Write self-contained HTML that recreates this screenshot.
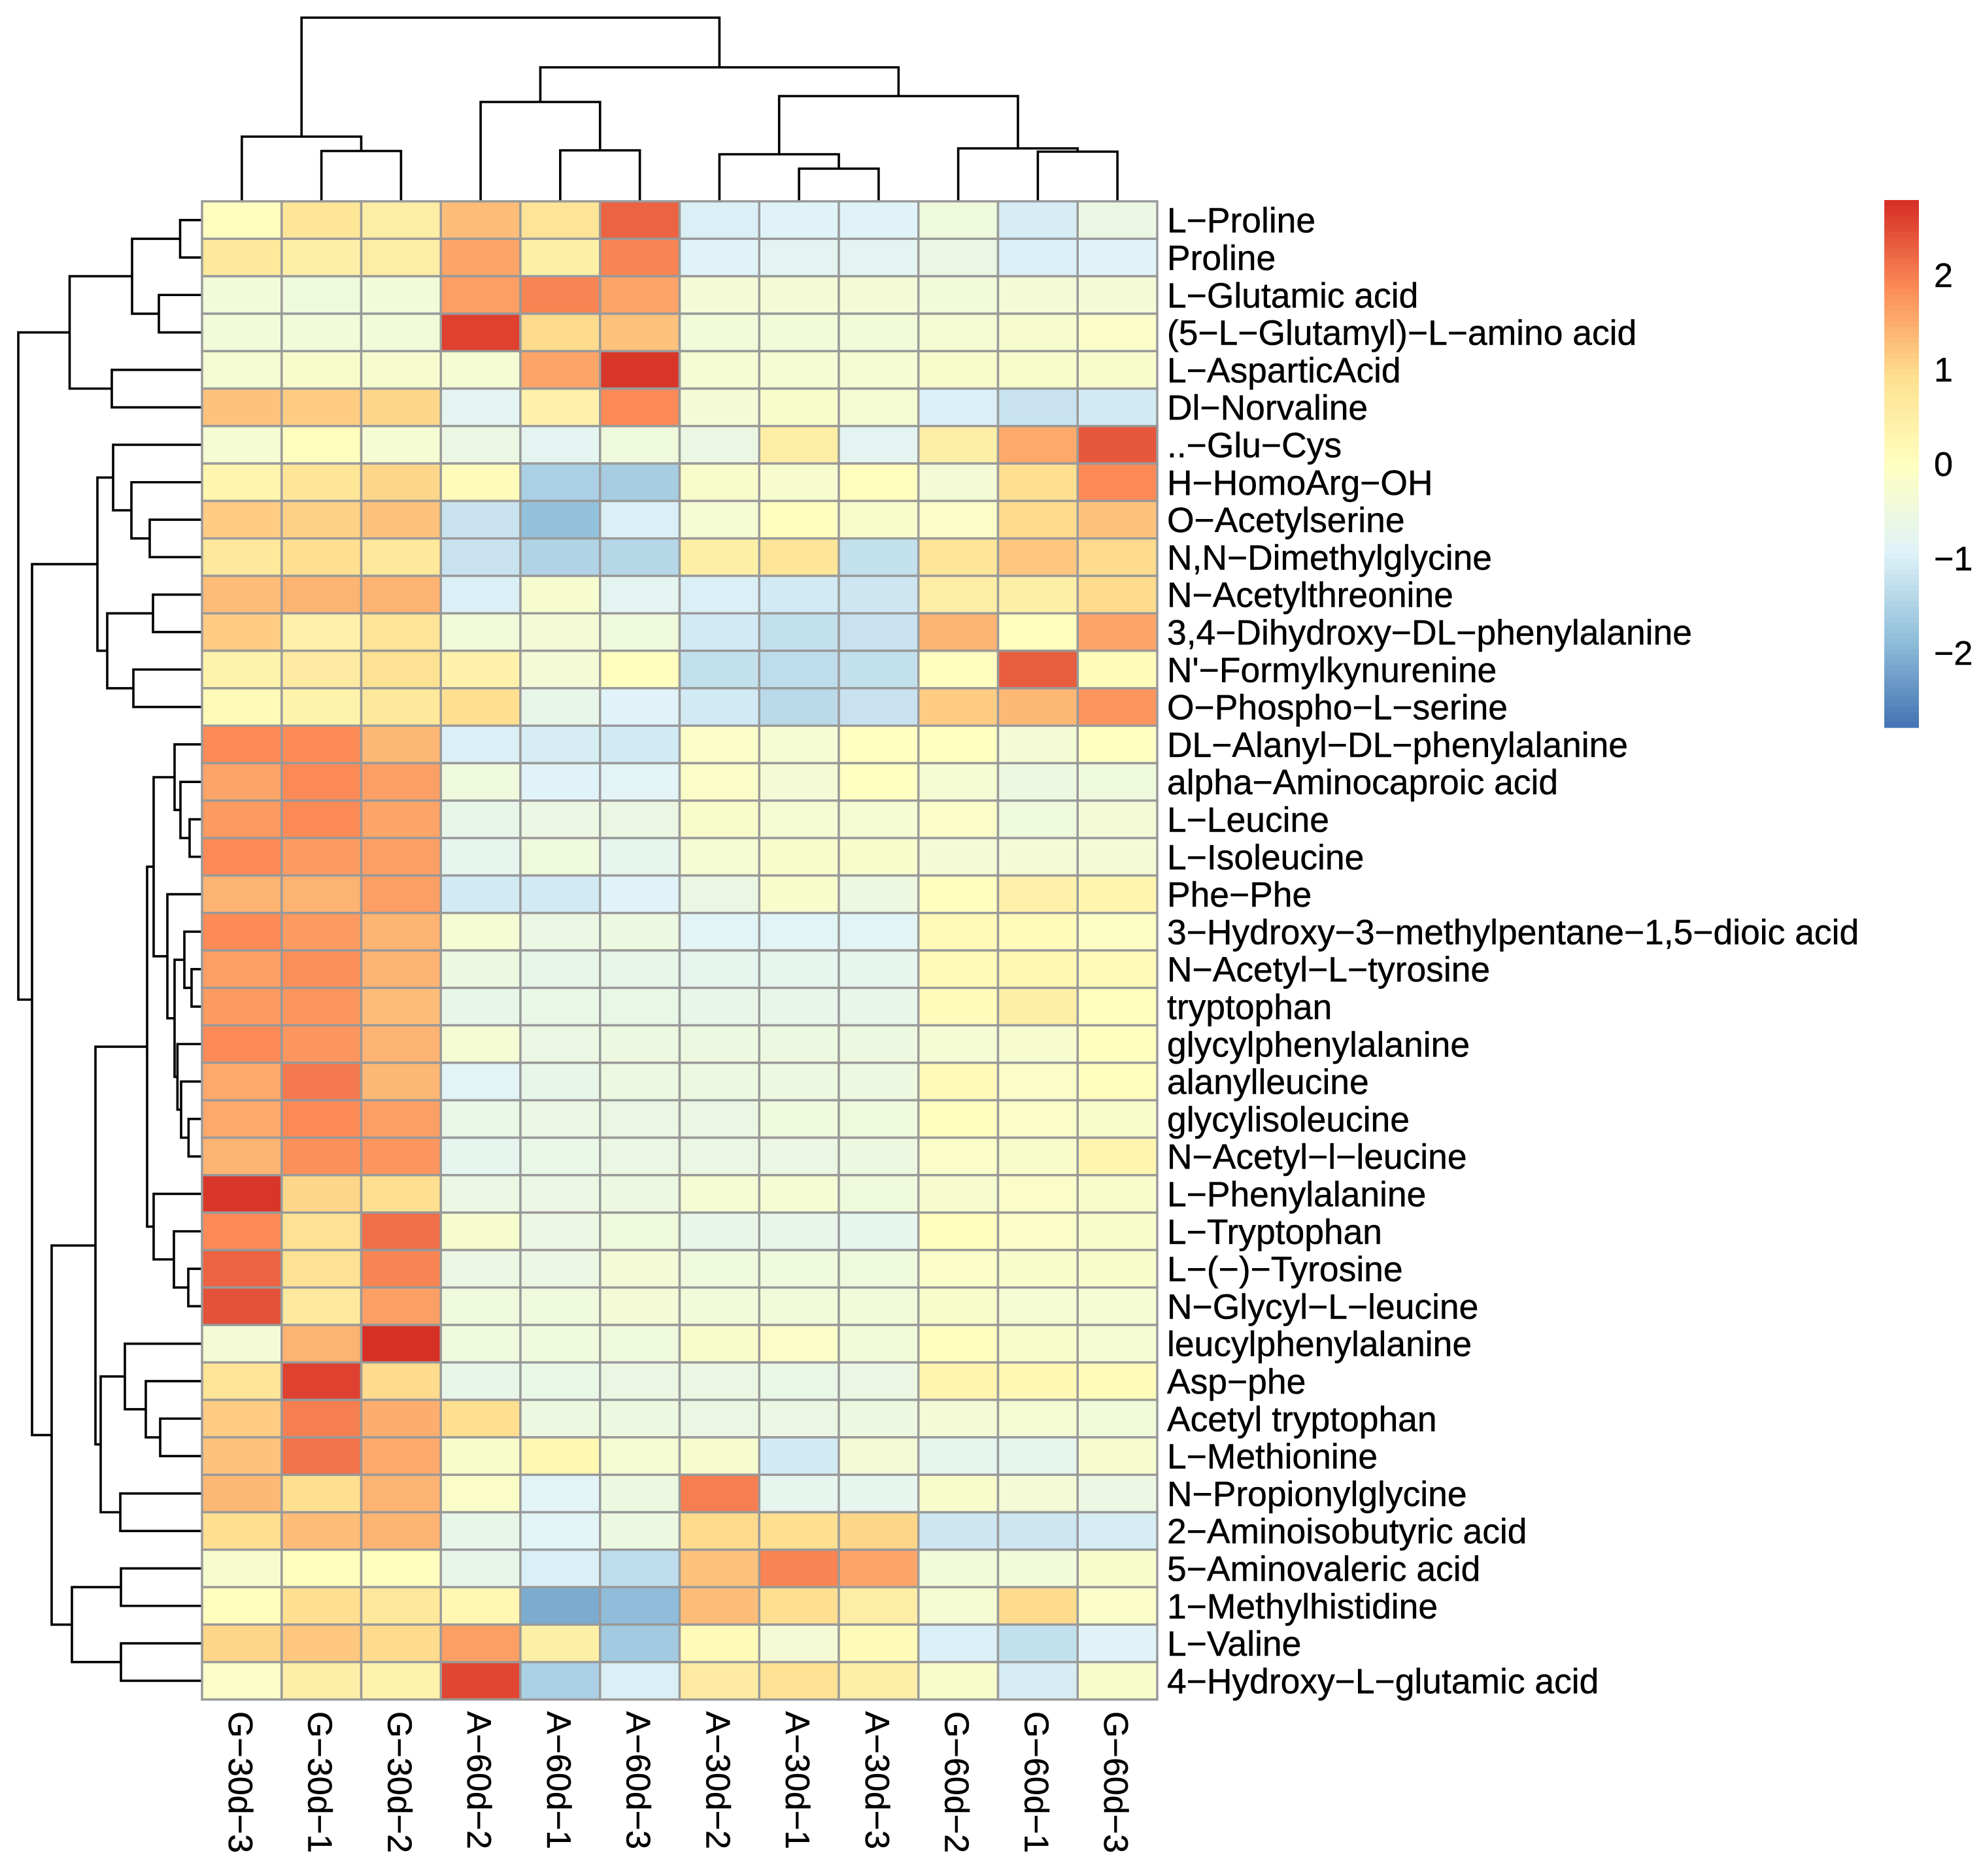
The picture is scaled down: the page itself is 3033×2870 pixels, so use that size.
<!DOCTYPE html>
<html lang="en">
<head>
<meta charset="utf-8">
<title>Metabolite clustered heatmap</title>
<style>
html,body{margin:0;padding:0;background:#fff;}
svg{display:block;}
text{font-family:"Liberation Sans",Arial,sans-serif;fill:#000;stroke:#000;stroke-width:0.5px;}
</style>
</head>
<body>
<svg id="chart" xmlns="http://www.w3.org/2000/svg" width="3033" height="2870" viewBox="0 0 3033 2870">
  <rect x="0" y="0" width="3033" height="2870" fill="#ffffff"/>
  <g id="col-dendrogram"></g>
  <g id="row-dendrogram"></g>
  <g id="cells"></g>
  <g id="row-labels"></g>
  <g id="col-labels"></g>
  <g id="legend"></g>
</svg>
<script>
const colLabels = ["G−30d−3","G−30d−1","G−30d−2","A−60d−2","A−60d−1","A−60d−3","A−30d−2","A−30d−1","A−30d−3","G−60d−2","G−60d−1","G−60d−3"];
const rowLabels = ["L−Proline","Proline","L−Glutamic acid","(5−L−Glutamyl)−L−amino acid","L−AsparticAcid","Dl−Norvaline","..−Glu−Cys","H−HomoArg−OH","O−Acetylserine","N,N−Dimethylglycine","N−Acetylthreonine","3,4−Dihydroxy−DL−phenylalanine","N'−Formylkynurenine","O−Phospho−L−serine","DL−Alanyl−DL−phenylalanine","alpha−Aminocaproic acid","L−Leucine","L−Isoleucine","Phe−Phe","3−Hydroxy−3−methylpentane−1,5−dioic acid","N−Acetyl−L−tyrosine","tryptophan","glycylphenylalanine","alanylleucine","glycylisoleucine","N−Acetyl−l−leucine","L−Phenylalanine","L−Tryptophan","L−(−)−Tyrosine","N−Glycyl−L−leucine","leucylphenylalanine","Asp−phe","Acetyl tryptophan","L−Methionine","N−Propionylglycine","2−Aminoisobutyric acid","5−Aminovaleric acid","1−Methylhistidine","L−Valine","4−Hydroxy−L−glutamic acid"];
const cellValues = [
[0.05,0.75,0.55,1.3,0.8,2.25,-0.95,-0.9,-0.9,-0.45,-1.05,-0.6],
[0.7,0.5,0.55,1.6,0.45,1.95,-0.9,-0.8,-0.8,-0.6,-1.0,-0.9],
[-0.4,-0.45,-0.4,1.65,1.9,1.6,-0.35,-0.35,-0.35,-0.4,-0.35,-0.35],
[-0.4,-0.4,-0.4,2.6,1.0,1.25,-0.4,-0.4,-0.4,-0.3,-0.25,-0.15],
[-0.3,-0.2,-0.25,-0.3,1.6,2.7,-0.3,-0.3,-0.3,-0.2,-0.2,-0.2],
[1.25,1.15,1.05,-0.8,0.4,1.85,-0.35,-0.2,-0.3,-0.95,-1.2,-1.1],
[-0.3,0.05,-0.3,-0.6,-0.8,-0.45,-0.6,0.55,-0.8,0.5,1.55,2.35],
[0.3,0.75,1.05,0.1,-1.55,-1.6,-0.2,-0.25,0.05,-0.35,0.9,1.85],
[1.15,1.1,1.25,-1.2,-1.8,-0.95,-0.3,0.05,-0.2,-0.15,0.95,1.25],
[0.7,0.9,0.7,-1.2,-1.5,-1.4,0.45,0.75,-1.25,0.75,1.2,0.95],
[1.3,1.45,1.45,-1.0,-0.25,-0.8,-1.0,-1.1,-1.15,0.55,0.5,1.0],
[1.15,0.4,0.8,-0.4,-0.35,-0.45,-1.1,-1.25,-1.2,1.45,0.05,1.6],
[0.35,0.6,0.85,0.4,-0.35,0.05,-1.25,-1.3,-1.25,0.05,2.3,0.1],
[0.15,0.35,0.7,0.9,-0.7,-0.9,-1.1,-1.35,-1.2,1.15,1.35,1.75],
[1.85,1.85,1.35,-0.95,-1.05,-1.1,-0.15,-0.3,-0.05,-0.05,-0.35,-0.05],
[1.6,1.85,1.65,-0.45,-0.9,-0.85,-0.15,-0.35,-0.02,-0.3,-0.55,-0.5],
[1.7,1.85,1.6,-0.7,-0.6,-0.6,-0.2,-0.3,-0.3,-0.15,-0.45,-0.35],
[1.85,1.7,1.65,-0.75,-0.45,-0.75,-0.3,-0.2,-0.2,-0.35,-0.35,-0.35],
[1.45,1.45,1.65,-1.1,-1.1,-0.9,-0.6,-0.2,-0.55,0.02,0.4,0.3],
[1.85,1.7,1.4,-0.3,-0.6,-0.55,-0.85,-0.85,-0.85,0.15,0.1,-0.1],
[1.65,1.8,1.4,-0.55,-0.7,-0.7,-0.75,-0.75,-0.75,0.15,0.25,0.15],
[1.7,1.75,1.3,-0.7,-0.65,-0.65,-0.7,-0.7,-0.7,0.1,0.45,0.05],
[1.85,1.75,1.45,-0.3,-0.6,-0.55,-0.55,-0.55,-0.55,-0.3,-0.25,0.02],
[1.55,2.05,1.35,-0.85,-0.7,-0.55,-0.55,-0.55,-0.55,0.15,-0.15,0.05],
[1.55,1.85,1.65,-0.65,-0.6,-0.6,-0.6,-0.45,-0.45,0.05,-0.15,-0.2],
[1.45,1.8,1.75,-0.75,-0.65,-0.6,-0.6,-0.6,-0.55,-0.15,-0.2,0.3],
[2.7,1.05,0.9,-0.6,-0.6,-0.55,-0.3,-0.3,-0.45,-0.25,-0.15,-0.2],
[1.85,0.85,2.15,-0.25,-0.6,-0.45,-0.7,-0.7,-0.75,0,-0.15,-0.2],
[2.25,0.85,1.9,-0.6,-0.6,-0.35,-0.5,-0.5,-0.5,-0.15,-0.2,-0.2],
[2.4,0.65,1.65,-0.45,-0.45,-0.35,-0.4,-0.4,-0.4,-0.2,-0.3,-0.3],
[-0.35,1.4,2.75,-0.5,-0.45,-0.5,-0.2,-0.15,-0.4,0.05,-0.2,-0.3],
[0.8,2.6,1.0,-0.7,-0.65,-0.6,-0.6,-0.65,-0.6,0.3,0.2,0.1],
[1.15,2.0,1.5,0.9,-0.55,-0.55,-0.6,-0.6,-0.55,-0.35,-0.3,-0.4],
[1.25,2.1,1.55,-0.2,0.25,-0.3,-0.25,-1.1,-0.35,-0.75,-0.75,-0.25],
[1.35,0.9,1.4,-0.15,-0.85,-0.55,2.0,-0.75,-0.75,-0.2,-0.35,-0.6],
[0.9,1.3,1.45,-0.7,-0.85,-0.55,1.0,0.9,1.05,-1.15,-1.15,-1.05],
[-0.25,0.05,0.05,-0.7,-0.95,-1.3,1.25,1.95,1.6,-0.4,-0.4,-0.2],
[0.05,0.9,0.7,0.25,-2.1,-1.85,1.3,0.9,0.55,-0.3,1.0,-0.15],
[1.05,1.2,0.95,1.65,0.45,-1.65,0.15,-0.35,0.15,-0.95,-1.25,-0.9],
[-0.15,0.45,0.35,2.55,-1.55,-0.95,0.6,0.85,0.5,-0.2,-1.05,-0.2]
];
/* Dendrogram merges, hclust convention: negative = leaf number, positive = earlier merge number */
const colMergeA = [-2,-1,-5,-4,-8,-7,-11,-10,6,4,2];
const colMergeB = [-3,1,-6,3,-9,5,-12,7,8,9,10];
const colMergeHeight = [7.7,9.9,7.8,15.2,5.0,7.2,7.6,8.1,16.1,20.5,28.1];
const rowMergeA = [-1,-3,1,-5,3,-9,-8,-7,-11,-13,9,8,-17,-16,-15,-21,-20,-25,-24,-23,17,-19,15,-29,-28,-27,23,-33,-32,-31,-35,30,27,-37,-39,34,33,12,5];
const rowMergeB = [-2,-4,2,-6,4,-10,6,7,-12,-14,10,11,-18,13,14,-22,16,-26,18,19,20,21,22,-30,24,25,26,-34,28,29,-36,31,32,-38,-40,35,36,37,38];
const rowMergeHeight = [3.35,6.6,10.7,13.8,20.25,8.0,10.8,13.6,7.5,10.5,14.5,16.0,1.9,3.3,4.2,1.6,2.7,2.06,3.2,3.76,4.2,5.3,7.4,2.1,4.3,7.4,8.4,6.4,8.6,11.8,12.5,15.5,16.3,12.4,12.4,19.9,23.0,26.0,28.1];
const legendTicks = [2,1,0,-1,-2];
const scaleMin = -2.79;
const scaleMax = 2.79;
const paletteStops = ["#4575B4","#91BFDB","#E0F3F8","#FFFFBF","#FEE090","#FC8D59","#D73027"];

const NS = "http://www.w3.org/2000/svg";
const plot = {left:309, right:1770, top:308, bottom:2600};
const legendBox = {left:2882, right:2935, top:306, bottom:1113};
const colWidth = (plot.right - plot.left) / colLabels.length;
const rowHeight = (plot.bottom - plot.top) / rowLabels.length;
const dendroScale = 10;

function xBand(i){ return plot.left + colWidth * i; }
function yBand(i){ return plot.top + rowHeight * i; }
function colHeightY(h){ return plot.top - h * dendroScale; }
function rowHeightX(h){ return plot.left - h * dendroScale; }
function legendY(v){ return legendBox.bottom - (v - scaleMin) / (scaleMax - scaleMin) * (legendBox.bottom - legendBox.top); }

function hexToRgb(h){ return [parseInt(h.slice(1,3),16),parseInt(h.slice(3,5),16),parseInt(h.slice(5,7),16)]; }
function rampAt(t){
  const p = Math.max(0, Math.min(1, t)) * (paletteStops.length - 1);
  const i = Math.min(Math.floor(p), paletteStops.length - 2);
  const a = hexToRgb(paletteStops[i]), b = hexToRgb(paletteStops[i+1]), f = p - i;
  return "rgb(" + a.map((c,k) => Math.round(c + (b[k]-c)*f)).join(",") + ")";
}
function colorFor(v){
  const bin = Math.min(99, Math.max(0, Math.floor((v - scaleMin) / (scaleMax - scaleMin) * 100)));
  return rampAt(bin / 99);
}
function mk(tag, attrs){
  const el = document.createElementNS(NS, tag);
  for (const k in attrs) el.setAttribute(k, attrs[k]);
  return el;
}

/* heatmap cells */
const cellsG = document.getElementById("cells");
cellValues.forEach((row, r) => {
  row.forEach((v, c) => {
    const el = mk("rect", {x:xBand(c), y:yBand(r), width:colWidth, height:rowHeight, fill:colorFor(v), stroke:"#999999", "stroke-width":3.5});
    
    
    cellsG.appendChild(el);
  });
});

/* dendrograms */
function drawDendrogram(group, mergeA, mergeB, heights, leafPos, heightPos, vertical){
  const nodePos = [];
  function info(id){
    if (id < 0) return {pos:leafPos(-id - 1), h:0};
    return {pos:nodePos[id - 1], h:heights[id - 1]};
  }
  mergeA.forEach((a, i) => {
    const A = info(a), B = info(mergeB[i]), H = heights[i];
    nodePos[i] = (A.pos + B.pos) / 2;
    const pts = vertical
      ? [[A.pos,heightPos(A.h)],[A.pos,heightPos(H)],[B.pos,heightPos(H)],[B.pos,heightPos(B.h)]]
      : [[heightPos(A.h),A.pos],[heightPos(H),A.pos],[heightPos(H),B.pos],[heightPos(B.h),B.pos]];
    const el = mk("polyline", {points:pts.map(p => p.join(",")).join(" "), fill:"none", stroke:"#000000", "stroke-width":3.6, "stroke-linejoin":"miter"});
    
    
    group.appendChild(el);
  });
}
drawDendrogram(document.getElementById("col-dendrogram"), colMergeA, colMergeB, colMergeHeight, i => xBand(i) + colWidth/2, colHeightY, true);
drawDendrogram(document.getElementById("row-dendrogram"), rowMergeA, rowMergeB, rowMergeHeight, i => yBand(i) + rowHeight/2, rowHeightX, false);

/* row labels */
const rowLabelG = document.getElementById("row-labels");
rowLabels.forEach((label, r) => {
  const el = mk("text", {x:plot.right + 15, y:yBand(r) + rowHeight/2 + 19, "font-size":53.4});
  el.textContent = label;
  
  
  rowLabelG.appendChild(el);
});

/* column labels */
const colLabelG = document.getElementById("col-labels");
colLabels.forEach((label, c) => {
  const bx = xBand(c) + colWidth/2 - 20;
  const by = plot.bottom + 18;
  const el = mk("text", {x:0, y:0, "font-size":52, transform:"translate(" + bx + "," + by + ") rotate(90)"});
  el.textContent = label;
  
  
  colLabelG.appendChild(el);
});

/* legend */
const legendG = document.getElementById("legend");
for (let i = 0; i < 100; i++) {
  const lo = scaleMin + (scaleMax - scaleMin) * i / 100;
  const hi = scaleMin + (scaleMax - scaleMin) * (i + 1) / 100;
  const el = mk("rect", {x:legendBox.left, y:legendY(hi), width:legendBox.right - legendBox.left, height:legendY(lo) - legendY(hi) + 0.6, fill:rampAt(i / 99)});
  
  
  legendG.appendChild(el);
}
legendTicks.forEach(t => {
  const el = mk("text", {x:legendBox.right + 23, y:legendY(t) + 18.5, "font-size":52});
  el.textContent = t < 0 ? "−" + Math.abs(t) : String(t);
  
  
  legendG.appendChild(el);
});
</script>
</body>
</html>
